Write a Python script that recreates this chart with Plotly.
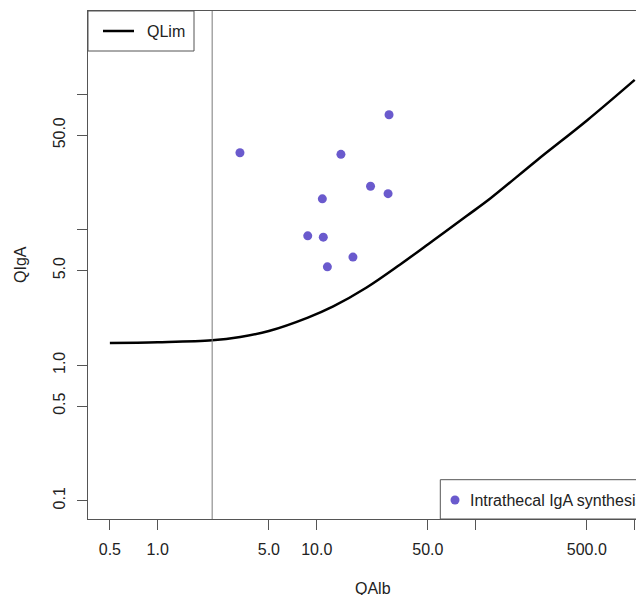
import plotly.graph_objects as go

# Patient data (QAlb, QIgA)
qalb = [3.29, 28.5, 14.2, 21.8, 28.1, 10.85, 8.78, 11.0, 16.9, 11.67]
qiga = [37.1, 70.8, 36.1, 21.0, 18.5, 16.95, 9.03, 8.83, 6.29, 5.33]

# QLim curve
qlim_x = [0.5, 1.0, 2.2, 3.3, 5.0, 8.8, 12.7, 20.6, 33.5, 54.3, 88.0, 124.0, 243.0, 503.0, 1000.0]
qlim_y = [1.46, 1.48, 1.53, 1.62, 1.79, 2.25, 2.72, 3.75, 5.55, 8.39, 12.7, 17.1, 32.7, 64.5, 128.0]

# Reference vertical line
qalb_ref = 2.2

x_tickvals = [0.5, 1, 5, 10, 50, 100, 500, 1000]
x_ticktext = ["0.5", "1.0", "5.0", "10.0", "50.0", "", "500.0", ""]
y_tickvals = [0.1, 0.5, 1, 5, 10, 50, 100]
y_ticktext = ["0.1", "0.5", "1.0", "5.0", "", "50.0", ""]

legend_names = ["QLim", "Intrathecal IgA synthesis"]

FONT = "Liberation Sans, Arial, sans-serif"
TXT = "#222222"
AX = "#555555"
DOT = "#6A5ACD"

# plot area in figure pixels (for paper-coordinate conversions)
PL, PW, PB, PH = 80, 556, 511, 508
def px(fx):
    return (fx - PL) / PW
def py(fy):
    return (PB - fy) / PH

fig = go.Figure()

fig.add_trace(go.Scatter(
    x=qlim_x, y=qlim_y, mode="lines", name=legend_names[0],
    line=dict(color="black", width=2.5, shape="spline", smoothing=1.0),
    showlegend=False,
))

fig.add_trace(go.Scatter(
    x=qalb, y=qiga, mode="markers", name=legend_names[1],
    marker=dict(color=DOT, size=9),
    showlegend=False,
))

shapes = [
    # vertical reference line
    dict(type="line", xref="x", yref="paper", x0=qalb_ref, x1=qalb_ref, y0=0, y1=1,
         line=dict(color="#7a7a7a", width=1)),
    # legend 1 box + key
    dict(type="rect", xref="paper", yref="paper", x0=0, x1=px(186), y0=py(43), y1=1,
         fillcolor="white", line=dict(color=AX, width=1)),
    dict(type="line", xref="paper", yref="paper", x0=px(95), x1=px(126), y0=py(23), y1=py(23),
         line=dict(color="black", width=2.5)),
    # legend 2 box + key
    dict(type="rect", xref="paper", yref="paper", x0=px(432.3), x1=1.3, y0=0, y1=py(471.7),
         fillcolor="white", line=dict(color=AX, width=1)),
    dict(type="circle", xref="paper", yref="paper", xsizemode="pixel", ysizemode="pixel",
         xanchor=px(447), yanchor=py(492), x0=-4.5, x1=4.5, y0=-4.5, y1=4.5,
         fillcolor=DOT, line=dict(width=0)),
]

annotations = [
    dict(text=legend_names[0], xref="paper", yref="paper", x=px(137), y=py(23),
         xanchor="left", yanchor="middle", showarrow=False,
         font=dict(family=FONT, size=16, color=TXT)),
    dict(text=legend_names[1], xref="paper", yref="paper", x=px(459.7), y=py(492),
         xanchor="left", yanchor="middle", showarrow=False,
         font=dict(family=FONT, size=16, color=TXT)),
    dict(text="QAlb", xref="paper", yref="paper", x=px(365), y=py(580),
         xanchor="center", yanchor="middle", showarrow=False,
         font=dict(family=FONT, size=16, color=TXT)),
    dict(text="QIgA", xref="paper", yref="paper", x=px(12), y=0.5, textangle=-90,
         xanchor="center", yanchor="middle", showarrow=False,
         font=dict(family=FONT, size=16, color=TXT)),
]

fig.update_layout(
    width=636, height=587,
    showlegend=False,
    margin=dict(l=PL, r=0, t=3, b=76, autoexpand=False),
    paper_bgcolor="white", plot_bgcolor="white",
    font=dict(family=FONT, size=16, color=TXT),
    xaxis=dict(
        type="log", range=[-0.4386, 3.0585],
        tickvals=x_tickvals, ticktext=x_ticktext,
        ticks="outside", ticklen=10, tickcolor=AX, tickwidth=1,
        showline=True, linecolor=AX, linewidth=1, mirror=True,
        showgrid=False, zeroline=False,
        ticklabelstandoff=6,
    ),
    yaxis=dict(
        type="log", range=[-1.135, 2.616],
        tickvals=y_tickvals, ticktext=y_ticktext, tickangle=-90,
        ticks="outside", ticklen=10, tickcolor=AX, tickwidth=1,
        showline=True, linecolor=AX, linewidth=1,
        showgrid=False, zeroline=False,
        ticklabelstandoff=6,
    ),
    shapes=shapes,
    annotations=annotations,
)

fig.write_html("out.html")
